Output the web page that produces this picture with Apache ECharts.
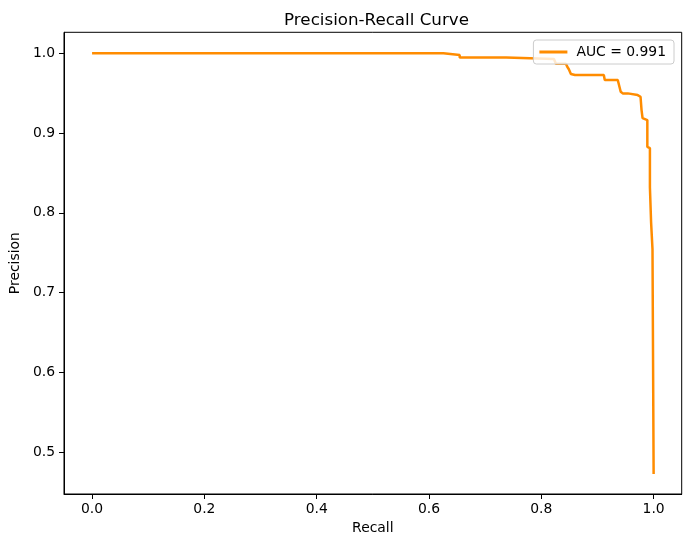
<!DOCTYPE html>
<html>
<head>
<meta charset="utf-8">
<script src="https://cdn.jsdelivr.net/npm/echarts@6/dist/echarts.min.js"></script>
<style>
html,body{margin:0;padding:0;background:#fff;}
#c{width:691px;height:547px;}
</style>
</head>
<body>
<div id="c"></div>
<script>
var recall = [0, 0.6257, 0.6257, 0.6546, 0.6546, 0.7375, 0.7375, 0.8225, 0.8260, 0.8438, 0.8460, 0.8490, 0.8527, 0.8600, 0.9113, 0.9130, 0.9361, 0.9414, 0.9450, 0.9540, 0.9556, 0.9716, 0.9767, 0.9785, 0.9803, 0.9888, 0.9888, 0.9934, 0.9934, 0.9955, 0.9955, 0.9980, 0.9980, 1.0, 1.0];
var precision = [1.0, 1.0, 0.9979, 0.9979, 0.9947, 0.9947, 0.9928, 0.9928, 0.9870, 0.9870, 0.9834, 0.9800, 0.9740, 0.9727, 0.9727, 0.9665, 0.9665, 0.9518, 0.9497, 0.9497, 0.9476, 0.9476, 0.9455, 0.9288, 0.9187, 0.9162, 0.8827, 0.8810, 0.8320, 0.8320, 0.7880, 0.7880, 0.7540, 0.7540, 0.4724];
var xTicks = [0.0, 0.2, 0.4, 0.6, 0.8, 1.0];
var yTicks = [0.5, 0.6, 0.7, 0.8, 0.9, 1.0];
var seriesName = 'AUC = 0.991';

var pts = recall.map(function (r, i) { return [r, precision[i]]; });
var font = 'DejaVu Sans';
var chart = echarts.init(document.getElementById('c'));
chart.setOption({
  animation: false,
  backgroundColor: '#fff',
  title: {
    text: 'Precision-Recall Curve',
    left: 371.5, top: 7, textAlign: 'center',
    textStyle: {fontFamily: font, fontSize: 16.7, fontWeight: 'normal', color: '#000'}
  },
  legend: {
    right: 17, top: 40,
    backgroundColor: 'rgba(255,255,255,0.8)',
    borderColor: '#cccccc', borderWidth: 1, borderRadius: 3,
    padding: [5, 8, 5, 6],
    itemWidth: 28, itemHeight: 3, itemGap: 0,
    icon: 'rect',
    textStyle: {fontFamily: font, fontSize: 13.9, color: '#000', padding: [0, 0, 0, 4]},
    data: [seriesName]
  },
  grid: {
    left: 61.3, right: 9.3, top: 32.3, bottom: 53,
    show: true, borderColor: '#000', borderWidth: 1, backgroundColor: 'transparent'
  },
  xAxis: {
    type: 'value', min: -0.05, max: 1.05,
    name: 'Recall', nameLocation: 'middle', nameGap: 27,
    nameTextStyle: {fontFamily: font, fontSize: 13.9, color: '#000'},
    axisLine: {show: true, onZero: false, lineStyle: {color: '#000', width: 1}},
    axisTick: {show: true, length: 5, inside: false, customValues: xTicks, lineStyle: {color: '#000'}},
    axisLabel: {customValues: xTicks, margin: 8, fontFamily: font, fontSize: 13.9, color: '#000',
      formatter: function (v) { return v.toFixed(1); }},
    splitLine: {show: false}
  },
  yAxis: {
    type: 'value', min: 0.4473, max: 1.0263,
    name: 'Precision', nameLocation: 'middle', nameGap: 38,
    nameTextStyle: {fontFamily: font, fontSize: 13.9, color: '#000'},
    axisLine: {show: true, onZero: false, lineStyle: {color: '#000', width: 1}},
    axisTick: {show: true, length: 5, inside: false, customValues: yTicks, lineStyle: {color: '#000'}},
    axisLabel: {customValues: yTicks, margin: 9, fontFamily: font, fontSize: 13.9, color: '#000',
      formatter: function (v) { return v.toFixed(1); }},
    splitLine: {show: false}
  },
  series: [{
    name: seriesName,
    type: 'line',
    data: pts,
    showSymbol: false,
    symbol: 'none',
    lineStyle: {color: '#ff8c00', width: 2.5},
    itemStyle: {color: '#ff8c00'}
  }]
});
</script>
</body>
</html>
